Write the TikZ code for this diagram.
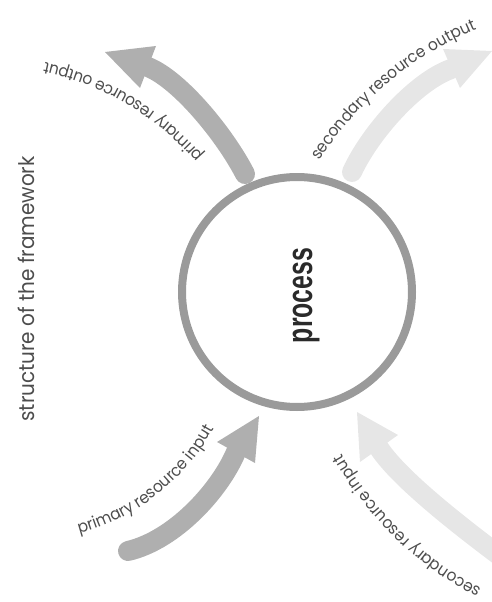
\documentclass[tikz,border=0pt]{standalone}
\usepackage{fontspec}
\setmainfont{Poppins}
\newfontfamily\lblfont{Poppins}[FakeStretch=0.93]
\newfontfamily\procfont{Liberation Sans}
\usepackage{graphicx}
\usetikzlibrary{calc,decorations.text}
\definecolor{primgray}{HTML}{AFAFAF}
\definecolor{secgray}{HTML}{E6E6E6}
\definecolor{ringgray}{HTML}{9A9A9A}
\definecolor{txtgray}{HTML}{4D4D4D}
\definecolor{procgray}{HTML}{2A2A2A}
\begin{document}
\begin{tikzpicture}[x=1pt,y=1pt,
  shaft/.style={line width=20pt, line cap=round},
  labeltext/.style={decorate, decoration={text along path, text align=center,
     text color=txtgray, text={|\lblfont\fontsize{16.5}{16.5}\selectfont|#1}}},
]
\useasboundingbox (0,0) rectangle (492,-602);
\clip (0,0) rectangle (492,-602);

% ring
\node[circle, draw=ringgray, line width=8pt, minimum size=230pt, inner sep=0pt] (ring) at (297,-292) {};
\node[rotate=90, anchor=base, text=procgray, inner sep=0pt] (proc) at (312,-295.5)
  {\scalebox{0.69}[1]{\procfont\bfseries\fontsize{36}{36}\selectfont process}};

% title
\node[rotate=90, anchor=base, text=txtgray, inner sep=0pt, font=\lblfont\fontsize{21.5}{21.5}\selectfont] (title) at (34,-289) {structure of the framework};

% arrow 1: primary resource output
\coordinate (a1t) at (245,-174);
\coordinate (a1b) at (148,-67);
\coordinate (a1h1) at (156,-46);
\coordinate (a1h2) at (140,-88);
\coordinate (a1p) at (105,-52);
\draw[shaft, primgray] (a1t) .. controls (225,-135) and (180,-80) .. (a1b);
\fill[primgray] (a1h1) -- (a1p) -- (a1h2) -- cycle;

% arrow 2: secondary resource output
\coordinate (a2t) at (352,-172);
\coordinate (a2b) at (451,-69);
\coordinate (a2h1) at (443,-49);
\coordinate (a2h2) at (460,-88);
\coordinate (a2p) at (492,-51);
\draw[shaft, secgray] (a2t) .. controls (370,-133) and (415,-82) .. (a2b);
\fill[secgray] (a2h1) -- (a2p) -- (a2h2) -- cycle;

% arrow 3: primary resource input
\coordinate (a3t) at (128,-551);
\coordinate (a3b) at (236,-452);
\coordinate (a3h1) at (217,-442);
\coordinate (a3h2) at (255,-463);
\coordinate (a3p) at (259,-416);
\draw[shaft, primgray] (a3t) .. controls (175,-540) and (220,-490) .. (a3b);
\fill[primgray] (a3h1) -- (a3p) -- (a3h2) -- cycle;

% arrow 4: secondary resource input
\coordinate (a4t) at (508,-562);
\coordinate (a4b) at (379,-448);
\coordinate (a4h1) at (398,-435);
\coordinate (a4h2) at (360,-462);
\coordinate (a4p) at (357,-412);
\draw[shaft, secgray] (a4t) .. controls (465,-530) and (400,-480) .. (a4b);
\fill[secgray] (a4h1) -- (a4p) -- (a4h2) -- cycle;

% labels
\coordinate (c1) at (-17,-349);
\coordinate (c2) at (611,-349);
\coordinate (c3) at (23,-323);
\coordinate (c4) at (638,-287);
\path[labeltext={primary resource output}] ($(c1)+(29.5:293)$) arc[start angle=29.5, end angle=89.5, radius=293];
\path[labeltext={secondary resource output}] ($(c2)+(160:347)$) arc[start angle=160, end angle=100, radius=347];
\path[labeltext={primary resource input}] ($(c3)+(-87:218)$) arc[start angle=-87, end angle=-17, radius=218];
\path[labeltext={secondary resource input}] ($(c4)+(256:340)$) arc[start angle=256, end angle=196, radius=340];
\end{tikzpicture}
\end{document}
